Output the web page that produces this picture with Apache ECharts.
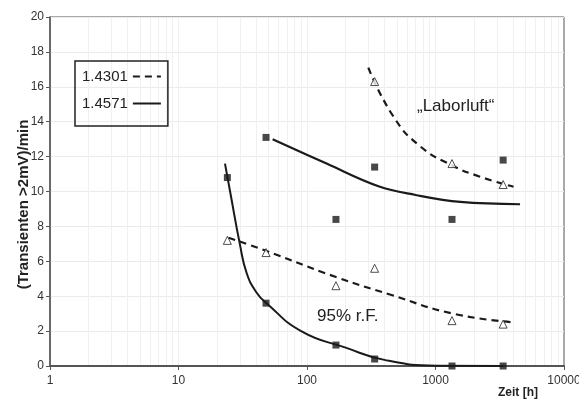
<!DOCTYPE html>
<html style="height: 100%">
<head>
    <meta charset="UTF-8">
    <script src="https://cdn.jsdelivr.net/npm/echarts@6/dist/echarts.min.js"></script>
</head>
<body style="margin: 0;background: #FFF;">
<div id="chart" style="width: 579px;height: 399px;"></div>

<script>
    // Messzeitpunkte [h]
    var hours95 = [24, 48, 168, 336, 1344, 3360];
    var hoursLaborSq = [48, 168, 336, 1344, 3360];
    var hoursLaborTri = [336, 1344, 3360];

    // Messwerte (Transienten >2mV)/min
    var sq95 = [10.8, 3.6, 1.2, 0.4, 0, 0];          // 1.4571, 95% r.F.
    var tri95 = [7.2, 6.5, 4.6, 5.6, 2.6, 2.4];      // 1.4301, 95% r.F.
    var sqLabor = [13.1, 8.4, 11.4, 8.4, 11.8];      // 1.4571, Laborluft
    var triLabor = [16.3, 11.6, 10.4];               // 1.4301, Laborluft

    // Ausgleichskurven
    var fit4301Labor = [[300, 17.1], [470, 14.3], [757, 12.6], [1340, 11.5], [2220, 10.85], [4050, 10.27]];
    var fit4301_95 = [[24.5, 7.35], [48, 6.6], [168, 5.1], [442, 4.1], [1370, 3.0], [4100, 2.5]];
    var fit4571Labor = [[54, 13.0], [142, 11.6], [360, 10.3], [700, 9.8], [1560, 9.4], [4550, 9.27]];
    var fit4571_95 = [[23, 11.6], [25.5, 9.8], [30, 7.0], [34, 5.3], [40.6, 4.2], [48.4, 3.6], [90, 2.0], [200, 1.05],
        [400, 0.35], [1020, 0.02], [3360, 0]];

    var xTicks = [1, 10, 100, 1000, 10000];

    function pairs(xs, ys) {
        var out = [];
        for (var i = 0; i < xs.length; i++) out.push([xs[i], ys[i]]);
        return out;
    }

    // feine Gitterlinien 2..9 je Dekade
    var minorLines = [];
    for (var d = 1; d < 10000; d *= 10) {
        for (var k = 2; k <= 9; k++) minorLines.push({xAxis: k * d});
    }
    for (var t = 1; t < xTicks.length - 1; t++) minorLines.push({xAxis: xTicks[t]});

    var sans = '"Liberation Sans", Arial, sans-serif';
    var ink = '#1a1a1a';

    var chart = echarts.init(document.getElementById('chart'));
    var option = {
        animation: false,
        backgroundColor: '#fff',
        grid: {
            left: 50, right: 15, top: 17, bottom: 33,
            outerBoundsMode: 'none', containLabel: false,
            show: true, borderColor: '#555', borderWidth: 1
        },
        legend: {
            data: ['1.4301', '1.4571'],
            orient: 'vertical',
            left: 75, top: 61,
            align: 'right',
            itemWidth: 28, itemHeight: 18, itemGap: 12,
            padding: [8, 6, 15, 7],
            borderColor: '#222', borderWidth: 1.5,
            itemStyle: {opacity: 0},
            textStyle: {fontFamily: sans, fontSize: 15, color: '#222'},
            selectedMode: false
        },
        xAxis: {
            type: 'log', logBase: 10, min: 1, max: 10000,
            name: 'Zeit [h]', nameLocation: 'end', nameGap: 0, nameMoveOverlap: false,
            nameTextStyle: {
                fontFamily: sans, fontWeight: 'bold', fontSize: 12,
                color: '#222', align: 'right', verticalAlign: 'top', padding: [21, 26, 0, 0]
            },
            axisLine: {lineStyle: {color: '#555', width: 2}},
            axisTick: {show: true, length: 4, lineStyle: {color: '#555'}},
            axisLabel: {
                fontFamily: sans, fontSize: 12, color: '#333', margin: 9,
                formatter: function (v) { return String(v); }
            },
            splitLine: {show: false}
        },
        yAxis: {
            type: 'value', min: 0, max: 20, interval: 2,
            name: '(Transienten >2mV)/min', nameLocation: 'middle', nameGap: 19, nameRotate: 90,
            nameMoveOverlap: false,
            nameTextStyle: {
                fontFamily: sans, fontWeight: 'bold', fontSize: 15,
                color: '#222', padding: [0, 26, 0, 0]
            },
            axisLine: {show: true, lineStyle: {color: '#555', width: 1.5}},
            axisTick: {show: true, length: 4, lineStyle: {color: '#555'}},
            axisLabel: {fontFamily: sans, fontSize: 12, color: '#333', margin: 6},
            splitLine: {show: true, lineStyle: {color: '#ebebeb', width: 1}}
        },
        series: [
            {
                name: '1.4301', type: 'line', data: fit4301Labor, smooth: 0.5,
                symbol: 'none', lineStyle: {color: ink, width: 2.2, type: [7, 5]}, itemStyle: {color: ink}, z: 3,
                markLine: {
                    silent: true, symbol: 'none', label: {show: false},
                    lineStyle: {color: '#f0f0f0', width: 1, type: 'solid'},
                    data: minorLines, z: 0
                }
            },
            {
                name: '1.4301', type: 'line', data: fit4301_95, smooth: 0.5,
                symbol: 'none', lineStyle: {color: ink, width: 2.2, type: [7, 5]}, itemStyle: {color: ink}, z: 3
            },
            {
                name: '1.4571', type: 'line', data: fit4571Labor, smooth: 0.4,
                symbol: 'none', lineStyle: {color: ink, width: 2.2}, itemStyle: {color: ink}, z: 3
            },
            {
                name: '1.4571', type: 'line', data: fit4571_95, smooth: 0.5,
                symbol: 'none', lineStyle: {color: ink, width: 2}, itemStyle: {color: ink}, z: 3
            },
            {
                name: 'Messwerte 1.4301', type: 'scatter', symbol: 'triangle', symbolSize: 8,
                data: pairs(hours95, tri95).concat(pairs(hoursLaborTri, triLabor)),
                itemStyle: {color: '#fff', borderColor: '#222', borderWidth: 1}, z: 4
            },
            {
                name: 'Messwerte 1.4571', type: 'scatter', symbol: 'rect', symbolSize: 7,
                data: pairs(hours95, sq95).concat(pairs(hoursLaborSq, sqLabor)),
                itemStyle: {color: '#1a1a1a'}, z: 4
            }
        ],
        graphic: [
            {
                type: 'text', left: 417, top: 98, z: 10,
                style: {text: '\u201ELaborluft\u201C', fontFamily: sans, fontSize: 17, fill: '#222'}
            },
            {
                type: 'text', left: 317, top: 308, z: 10,
                style: {text: '95% r.F.', fontFamily: sans, fontSize: 17, fill: '#222'}
            }
        ]
    };
    chart.setOption(option, true);
</script>
</body>
</html>
